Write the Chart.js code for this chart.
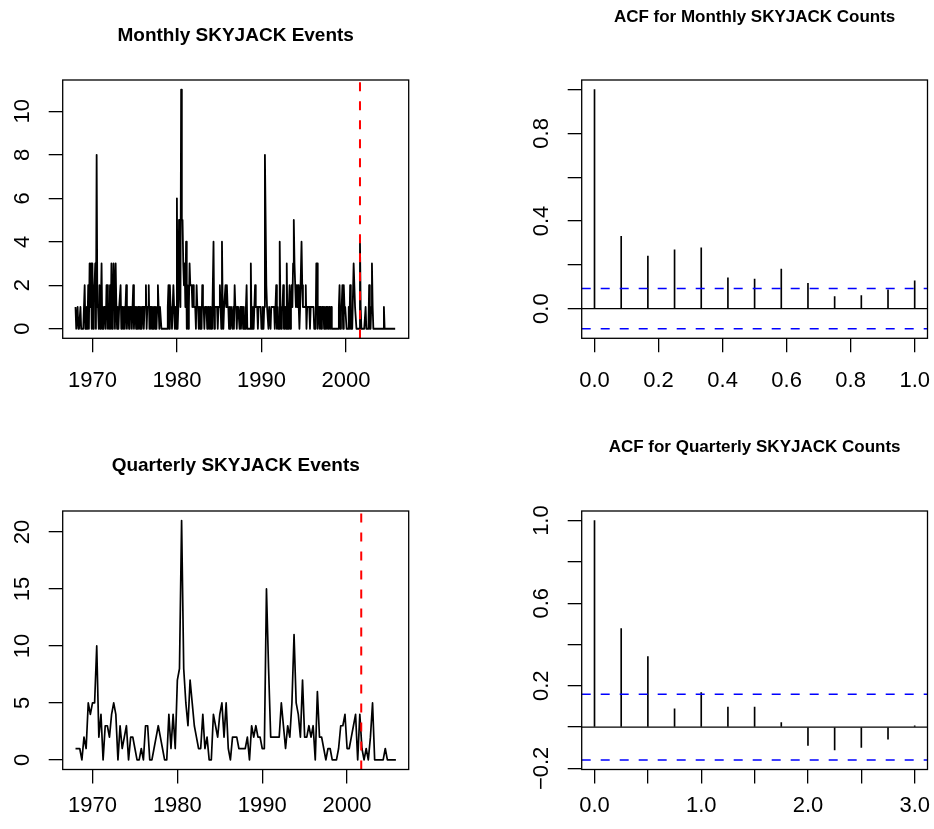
<!DOCTYPE html>
<html>
<head>
<meta charset="utf-8">
<title>SKYJACK events</title>
<script src="https://cdn.jsdelivr.net/npm/chart.js@4.4.1/dist/chart.umd.min.js"></script>
<style>
  body { margin: 0; background: #fff; width: 934px; height: 829px; position: relative; overflow: hidden; }
  canvas { position: absolute; }
</style>
</head>
<body>
<canvas id="chartMonthly" width="467" height="415" style="left:0;top:0"></canvas>
<canvas id="chartAcfMonthly" width="467" height="415" style="left:467px;top:0"></canvas>
<canvas id="chartQuarterly" width="467" height="414" style="left:0;top:415px"></canvas>
<canvas id="chartAcfQuarterly" width="467" height="414" style="left:467px;top:415px"></canvas>
<script>
// --- data ---
const monthlyStart = 1968;   // Jan 1968, 12 obs per year
const monthlyCounts = [
  1,0,0, 1,0,0, 0,1,0, 0,0,0,   // 1968
  0,2,0, 0,1,0, 2,0,3, 1,3,0,   // 1969
  3,0,2, 2,3,0, 8,1,1, 0,2,0,   // 1970
  1,3,0, 1,0,1, 1,0,2, 2,0,1,   // 1971
  0,2,0, 3,0,1, 3,2,0, 3,1,0,   // 1972
  1,0,1, 1,2,0, 1,1,0, 1,0,1,   // 1973
  2,0,1, 1,0,1, 1,1,0, 1,2,0,   // 1974
  1,1,0, 1,0,1, 0,1,0, 1,0,1,   // 1975
  1,0,1, 1,2,0, 1,1,2, 0,1,0,   // 1976
  1,0,1, 0,1,0, 1,0,1, 2,1,0,   // 1977
  1,1,0, 0,0,0, 0,0,0, 0,0,1,   // 1978
  2,0,2, 1,1,0, 1,2,1, 0,1,0,   // 1979
  6,0,1, 5,2,1, 11,5,5, 3,2,3,  // 1980
  1,4,0, 2,0,1, 3,2,2, 2,1,2,   // 1981
  1,1,1, 0,2,1, 1,0,1, 0,1,0,   // 1982
  2,1,1, 0,1,1, 1,0,1, 1,0,1,   // 1983
  0,0,0, 0,4,0, 1,1,1, 1,0,1,   // 1984
  1,2,1, 0,4,1, 0,1,1, 2,1,2,   // 1985
  1,1,0, 1,0,1, 1,0,1, 0,2,1,   // 1986
  1,0,1, 1,1,0, 1,0,1, 1,0,1,   // 1987
  0,0,1, 2,0,0, 0,0,0, 3,0,0,   // 1988
  1,0,1, 2,1,1, 1,0,1, 1,1,1,   // 1989
  0,0,1, 0,1,8, 5,2,1, 1,0,1,   // 1990
  1,0,1, 1,1,1, 1,0,1, 2,0,1,   // 1991
  0,0,4, 1,0,1, 1,2,0, 0,1,0,   // 1992
  3,0,0, 1,2,0, 1,2,1, 3,5,3,   // 1993
  2,1,2, 1,2,1, 0,1,1, 4,2,1,   // 1994
  1,1,1, 2,0,1, 1,1,1, 0,1,1,   // 1995
  1,1,1, 0,0,0, 3,3,0, 1,1,0,   // 1996
  1,0,1, 1,1,0, 1,0,1, 0,1,0,   // 1997
  1,1,0, 1,0,0, 0,0,0, 0,0,0,   // 1998
  0,0,1, 2,0,1, 1,2,0, 2,1,1,   // 1999
  1,0,0, 0,1,0, 2,0,0, 0,0,3,   // 2000
  2,1,1, 0,0,0, 0,0,4, 1,0,0,   // 2001
  0,0,0, 0,1,0, 0,0,0, 2,0,0,   // 2002
  1,3,1, 0,0,0, 0,0,0, 0,0,0,   // 2003
  0,0,0, 0,0,0, 1,0,0, 0,0,0,   // 2004
  0,0,0, 0,0,0, 0,0,0, 0,0,0    // 2005
];

const quarterlyStart = 1968;  // 1968 Q1, 4 obs per year
const quarterlyCounts = [
  1,1,1,0, 2,1,5,4, 5,5,10,2, 4,0,3,3, 2,4,5,4,       // 1968-72
  0,3,1,2, 3,0,2,2, 1,0,0,1, 0,3,3,0, 0,1,2,3,        // 1973-77
  2,1,0,0, 4,1,4,1, 7,8,21,8, 5,3,7,5, 3,2,1,1,       // 1978-82
  4,1,2,0, 0,4,3,2, 4,5,2,5, 1,0,2,2, 2,1,1,1,        // 1983-87
  1,2,0,3, 2,3,2,2, 1,1,15,8, 2,2,2,2, 2,5,3,1,       // 1988-92
  3,2,5,11, 5,4,2,7, 2,2,3,2, 3,0,6,2, 2,1,0,1,       // 1993-97
  1,0,0,0, 1,3,3,4, 1,1,2,3, 4,0,4,1, 0,1,0,2,        // 1998-2002
  5,0,0,0, 0,0,1,0, 0,0,0,0                           // 2003-05
];

const eventDate = 2001.667;   // Sept 2001, red dashed line

const acfLags = [0, 1, 2, 3, 4, 5, 6, 7, 8, 9, 10, 11, 12];
const acfMonthly = [1.0, 0.33, 0.24, 0.268, 0.277, 0.141, 0.135, 0.18, 0.115, 0.055, 0.06, 0.086, 0.127];
const acfQuarterly = [1.0, 0.477, 0.342, 0.089, 0.167, 0.097, 0.097, 0.022, -0.089, -0.110, -0.099, -0.058, 0.006];
const ciMonthly = 0.092;
const ciQuarterly = 0.159;

// tick labels
const yearTicks = ['1970', '1980', '1990', '2000'];
const monthlyYTicks = ['0', '2', '4', '6', '8', '10'];
const quarterlyYTicks = ['0', '5', '10', '15', '20'];
const acfMonthlyXTicks = ['0.0', '0.2', '0.4', '0.6', '0.8', '1.0'];
const acfMonthlyYTicks = ['0.0', '0.4', '0.8'];
const acfQuarterlyXTicks = ['0.0', '1.0', '2.0', '3.0'];
const acfQuarterlyYTicks = ['\u22120.2', '0.2', '0.6', '1.0'];

const FONT = '"Liberation Sans", Arial, Helvetica, sans-serif';

// --- R-like frame: box, ablines, rotated y labels ---
const rFrame = {
  id: 'rFrame',
  afterDatasetsDraw(chart, args, opts) {
    const { ctx, chartArea: a, scales } = chart;
    ctx.save();
    (opts.hLines || []).forEach(function (h) {
      const y = scales.y.getPixelForValue(h.value);
      ctx.strokeStyle = h.color;
      ctx.lineWidth = h.width;
      ctx.setLineDash(h.dash || []);
      ctx.beginPath();
      ctx.moveTo(a.left, y);
      ctx.lineTo(a.right, y);
      ctx.stroke();
    });
    (opts.vLines || []).forEach(function (v) {
      const x = scales.x.getPixelForValue(v.value);
      ctx.strokeStyle = v.color;
      ctx.lineWidth = v.width;
      ctx.setLineDash(v.dash || []);
      ctx.beginPath();
      ctx.moveTo(x, a.bottom);
      ctx.lineTo(x, a.top);
      ctx.stroke();
    });
    ctx.setLineDash([]);
    ctx.strokeStyle = '#000';
    ctx.lineWidth = 1.3;
    ctx.strokeRect(a.left, a.top, a.right - a.left, a.bottom - a.top);

    // y tick labels, parallel to the axis like R
    ctx.fillStyle = '#000';
    ctx.font = '22px ' + FONT;
    ctx.textAlign = 'center';
    ctx.textBaseline = 'alphabetic';
    (opts.yLabels || []).forEach(function (t) {
      const y = scales.y.getPixelForValue(parseFloat(t.replace('\u2212', '-')));
      ctx.save();
      ctx.translate(a.left - 33.4, y);
      ctx.rotate(-Math.PI / 2);
      ctx.fillText(t, 0, 0);
      ctx.restore();
    });
    ctx.restore();
  }
};

function axisX(min, max, step, labels, fmt, height, pad) {
  return {
    type: 'linear', min: min, max: max, offset: false,
    border: { display: false },
    grid: { drawOnChartArea: false, drawTicks: true, tickLength: 14, color: '#000', lineWidth: 1.3, offset: false },
    ticks: {
      stepSize: step, includeBounds: false, autoSkip: false, maxRotation: 0, minRotation: 0,
      padding: pad, color: '#000', font: { family: FONT, size: 22 },
      callback: function (v) { const t = fmt(v); return labels.includes(t) ? t : ''; }
    },
    afterFit: function (s) {
      s.height = height;
      // labels may spill past the box like in R; don't reserve room for them
      s.paddingLeft = 0;
      s.paddingRight = 0;
    }
  };
}

function axisY(min, max, step, width) {
  return {
    type: 'linear', min: min, max: max,
    border: { display: false },
    grid: { drawOnChartArea: false, drawTicks: true, tickLength: 14, color: '#000', lineWidth: 1.3 },
    ticks: { display: false, stepSize: step, includeBounds: false },
    afterFit: function (s) { s.width = width; s.paddingTop = 0; s.paddingBottom = 0; }
  };
}

function titleOpts(text, size, top, bottom) {
  return {
    display: true, text: text, fullSize: false, color: '#000',
    font: { family: FONT, size: size, weight: 'bold', lineHeight: 1.2 },
    padding: { top: top, bottom: bottom }
  };
}

const yearFmt = function (v) { return String(Math.round(v)); };
const lagFmt = function (v) { return v.toFixed(1); };

const common = {
  responsive: false, animation: false, devicePixelRatio: 1, events: []
};

// --- Panel 1: Monthly series ---
new Chart(document.getElementById('chartMonthly'), {
  type: 'line',
  data: {
    datasets: [{
      data: monthlyCounts.map(function (v, i) { return { x: monthlyStart + i / 12, y: v }; }),
      borderColor: '#000', borderWidth: 1.8, pointRadius: 0, tension: 0,
      borderJoinStyle: 'round', fill: false
    }]
  },
  options: Object.assign({}, common, {
    layout: { padding: { left: 0, right: 58.3, top: 0, bottom: 0 } },
    scales: {
      x: axisX(1966.483, 2007.433, 10, yearTicks, yearFmt, 76.7, 15.8),
      y: axisY(-0.44, 11.44, 2, 62.7)
    },
    plugins: {
      legend: { display: false }, tooltip: { enabled: false },
      title: titleOpts('Monthly SKYJACK Events', 19, 24.4, 32.8),
      rFrame: { yLabels: monthlyYTicks, vLines: [{ value: eventDate, color: '#ff0000', width: 2, dash: [9, 10] }] }
    }
  }),
  plugins: [rFrame]
});

// --- Panel 2: ACF monthly ---
new Chart(document.getElementById('chartAcfMonthly'), {
  type: 'bar',
  data: {
    datasets: [{
      data: acfMonthly.map(function (v, i) { return { x: acfLags[i] / 12, y: v }; }),
      backgroundColor: '#000', barThickness: 1
    }]
  },
  options: Object.assign({}, common, {
    layout: { padding: { left: 0, right: 6.5, top: 0, bottom: 0 } },
    scales: {
      x: axisX(-0.04, 1.04, 0.2, acfMonthlyXTicks, lagFmt, 76.7, 15.8),
      y: axisY(-0.1355, 1.0437, 0.2, 114.7)
    },
    plugins: {
      legend: { display: false }, tooltip: { enabled: false },
      title: titleOpts('ACF for Monthly SKYJACK Counts', 17, 6.8, 52.8),
      rFrame: {
        yLabels: acfMonthlyYTicks,
        hLines: [
          { value: 0, color: '#000', width: 1.3 },
          { value: ciMonthly, color: '#0000ff', width: 1.5, dash: [9, 10] },
          { value: -ciMonthly, color: '#0000ff', width: 1.5, dash: [9, 10] }
        ]
      }
    }
  }),
  plugins: [rFrame]
});

// --- Panel 3: Quarterly series ---
new Chart(document.getElementById('chartQuarterly'), {
  type: 'line',
  data: {
    datasets: [{
      data: quarterlyCounts.map(function (v, i) { return { x: quarterlyStart + i / 4, y: v }; }),
      borderColor: '#000', borderWidth: 1.7, pointRadius: 0, tension: 0,
      borderJoinStyle: 'round', fill: false
    }]
  },
  options: Object.assign({}, common, {
    layout: { padding: { left: 0, right: 58.3, top: 0, bottom: 0 } },
    scales: {
      x: axisX(1966.49, 2007.26, 10, yearTicks, yearFmt, 59.5, 9.3),
      y: axisY(-0.84, 21.84, 5, 62.7)
    },
    plugins: {
      legend: { display: false }, tooltip: { enabled: false },
      title: titleOpts('Quarterly SKYJACK Events', 19, 39.6, 33.6),
      rFrame: { yLabels: quarterlyYTicks, vLines: [{ value: eventDate, color: '#ff0000', width: 2, dash: [9, 10] }] }
    }
  }),
  plugins: [rFrame]
});

// --- Panel 4: ACF quarterly ---
new Chart(document.getElementById('chartAcfQuarterly'), {
  type: 'bar',
  data: {
    datasets: [{
      data: acfQuarterly.map(function (v, i) { return { x: acfLags[i] / 4, y: v }; }),
      backgroundColor: '#000', barThickness: 1
    }]
  },
  options: Object.assign({}, common, {
    layout: { padding: { left: 0, right: 6.5, top: 0, bottom: 0 } },
    scales: {
      x: axisX(-0.12, 3.12, 0.5, acfQuarterlyXTicks, lagFmt, 59.5, 9.3),
      y: axisY(-0.2054, 1.0464, 0.2, 114.7)
    },
    plugins: {
      legend: { display: false }, tooltip: { enabled: false },
      title: titleOpts('ACF for Quarterly SKYJACK Counts', 17, 21.8, 53.8),
      rFrame: {
        yLabels: acfQuarterlyYTicks,
        hLines: [
          { value: 0, color: '#000', width: 1.3 },
          { value: ciQuarterly, color: '#0000ff', width: 1.5, dash: [9, 10] },
          { value: -ciQuarterly, color: '#0000ff', width: 1.5, dash: [9, 10] }
        ]
      }
    }
  }),
  plugins: [rFrame]
});
</script>
</body>
</html>
